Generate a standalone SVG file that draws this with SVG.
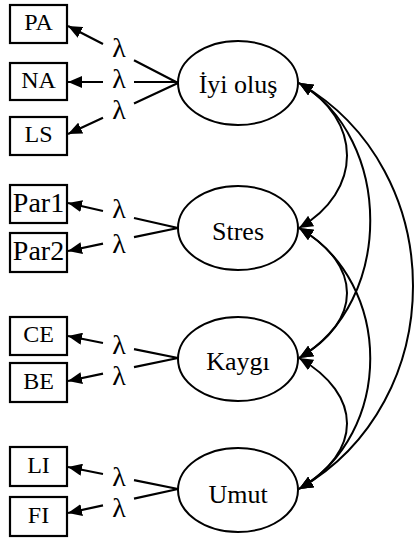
<svg xmlns="http://www.w3.org/2000/svg" width="414" height="540" viewBox="0 0 414 540">
  <style>
    .box { fill: #fff; stroke: #000; stroke-width: 2.2; }
    .lat { fill: #fff; stroke: #000; stroke-width: 2; }
    text { font-family: "Liberation Serif", "DejaVu Serif", serif; fill: #000; text-anchor: middle; }
    .ind { font-size: 24px; }
    .name { font-size: 26px; }
    .lam { font-size: 28px; }
    .load { fill: none; stroke: #000; stroke-width: 2.2; marker-end: url(#ah); }
    .cov { fill: none; stroke: #000; stroke-width: 2; marker-start: url(#ah); marker-end: url(#ah); }
  </style>
  <defs>
    <marker id="ah" viewBox="0 0 14 12" refX="14" refY="6" markerWidth="14" markerHeight="12" markerUnits="userSpaceOnUse" orient="auto-start-reverse">
      <path d="M0,0 L14,6 L0,12 z" fill="#000"/>
    </marker>
  </defs>

  <!-- factor loadings and covariances -->
  <g id="connectors">
    <path class="load" d="M178,83 L134,60.2 M103,44.1 L68,26"/>
    <path class="load" d="M178,82 L134,82 M103,82 L68,82"/>
    <path class="load" d="M178,83 L134,103.4 M103,117.8 L68,134"/>

    <path class="load" d="M178,228 L134,218 M103,211 L68,203"/>
    <path class="load" d="M178,228 L134,237.2 M103,243.7 L68,251"/>

    <path class="load" d="M178,358 L134,349.2 M103,343 L68,336"/>
    <path class="load" d="M178,358 L134,367.2 M103,373.7 L68,381"/>

    <path class="load" d="M178,489 L134,480.2 M103,474 L68,467"/>
    <path class="load" d="M178,489 L134,498.6 M103,505.4 L68,513"/>

    <path class="cov" d="M299,83 C363,120 363,191 299,228"/>
    <path class="cov" d="M299,83 C394,138 394,303 299,358"/>
    <path class="cov" d="M299,83 C451,170 451,402 299,489"/>
    <path class="cov" d="M299,228 C363,265 363,321 299,358"/>
    <path class="cov" d="M299,228 C394,283 394,434 299,489"/>
    <path class="cov" d="M299,358 C363,395 363,452 299,489"/>

    <text class="lam" x="119" y="57">λ</text>
    <text class="lam" x="119" y="88">λ</text>
    <text class="lam" x="119" y="119">λ</text>
    <text class="lam" x="119" y="218">λ</text>
    <text class="lam" x="119" y="253">λ</text>
    <text class="lam" x="119" y="354">λ</text>
    <text class="lam" x="119" y="385">λ</text>
    <text class="lam" x="119" y="486">λ</text>
    <text class="lam" x="119" y="517">λ</text>
  </g>

  <!-- observed indicators -->
  <g id="PA"><rect class="box" x="10" y="5" width="57" height="38"/><text class="ind" x="38.5" y="30">PA</text></g>
  <g id="NA"><rect class="box" x="10" y="63" width="57" height="37"/><text class="ind" x="38.5" y="88">NA</text></g>
  <g id="LS"><rect class="box" x="10" y="117" width="57" height="38"/><text class="ind" x="38.5" y="142">LS</text></g>
  <g id="Par1"><rect class="box" x="10" y="185" width="57" height="38"/><text class="ind" x="38.5" y="212" style="font-size:28px">Par1</text></g>
  <g id="Par2"><rect class="box" x="10" y="233" width="57" height="39"/><text class="ind" x="38.5" y="260" style="font-size:28px">Par2</text></g>
  <g id="CE"><rect class="box" x="10" y="317" width="57" height="38"/><text class="ind" x="38.5" y="342">CE</text></g>
  <g id="BE"><rect class="box" x="10" y="363" width="57" height="39"/><text class="ind" x="38.5" y="389">BE</text></g>
  <g id="LI"><rect class="box" x="10" y="447" width="57" height="39"/><text class="ind" x="38.5" y="473">LI</text></g>
  <g id="FI"><rect class="box" x="10" y="497" width="57" height="39"/><text class="ind" x="38.5" y="523">FI</text></g>

  <!-- latent factors -->
  <g id="iyi-olus"><ellipse class="lat" cx="238" cy="83" rx="60" ry="42"/><text class="name" x="238" y="93">İyi oluş</text></g>
  <g id="stres"><ellipse class="lat" cx="238" cy="228" rx="60" ry="42"/><text class="name" x="238" y="240">Stres</text></g>
  <g id="kaygi"><ellipse class="lat" cx="238" cy="359" rx="60" ry="42"/><text class="name" x="238" y="370">Kaygı</text></g>
  <g id="umut"><ellipse class="lat" cx="238" cy="490" rx="60" ry="42"/><text class="name" x="238" y="503">Umut</text></g>
</svg>
